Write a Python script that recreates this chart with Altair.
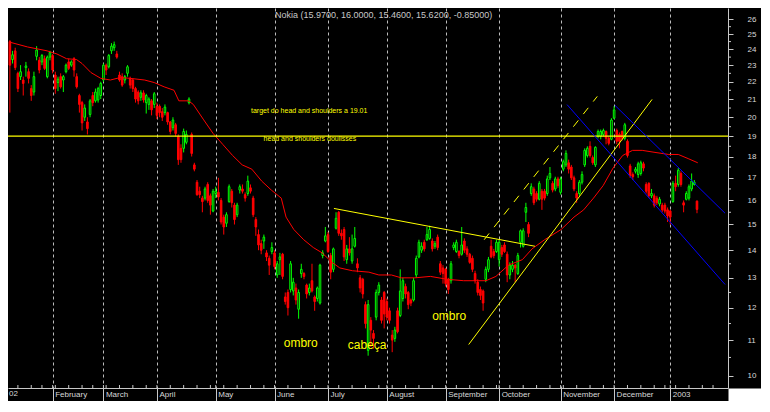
import json
import altair as alt
import pandas as pd

# ---------------- data ----------------
holidays = ["2002-01-01", "2002-01-21", "2002-02-18", "2002-03-29", "2002-05-27",
            "2002-07-04", "2002-09-02", "2002-11-28", "2002-12-25", "2003-01-01", "2003-01-20"]
first_candle_date = "2002-01-09"

opens = [
    24.5, 23.35, 23.9, 22.5, 22.3, 22.1, 22.85, 22.6, 21.6, 21.4,
    23.55, 23.3, 23.2, 23.4, 22.3, 23.5, 23.6, 22.4, 21.95, 22.3,
    22.1, 22.6, 23.2, 23.0, 23.4, 22.3, 21.2, 20.8, 20.0, 19.75,
    20.15, 21.2, 20.9, 20.95, 21.2, 22.1, 23.0, 22.9, 23.9, 24.1,
    23.7, 22.4, 22.3, 22.1, 22.5, 22.2, 22.1, 21.6, 21.4, 21.1,
    21.35, 20.8, 20.7, 20.9, 20.7, 20.6, 20.6, 20.3, 20.25, 20.25,
    19.75, 19.45, 19.6, 19.0, 18.4, 18.4, 18.7, 20.8, 19.1, 17.6,
    16.8, 16.4, 16.1, 16.1, 16.7, 16.2, 15.55, 16.3, 16.35, 16.0,
    15.3, 15.05, 15.95, 16.4, 15.8, 15.4, 16.45, 16.5, 16.25, 16.3,
    16.55, 16.1, 15.2, 14.6, 14.25, 14.35, 13.9, 13.7, 13.95, 13.9,
    13.1, 13.65, 13.85, 12.35, 12.5, 12.6, 12.55, 12.65, 11.95, 13.15,
    13.15, 12.75, 12.5, 12.9, 12.35, 12.3, 12.15, 13.8, 14.35, 14.6,
    13.8, 13.3, 14.85, 15.5, 14.65, 14.8, 13.65, 14.05, 13.6, 14.15,
    13.5, 13.0, 12.95, 12.1, 10.7, 11.6, 11.2, 11.7, 12.5, 12.25,
    12.5, 12.2, 11.9, 11.15, 11.05, 11.9, 11.75, 12.3, 12.7, 12.5,
    12.25, 12.25, 13.1, 13.75, 14.0, 14.3, 14.4, 14.45, 14.35, 14.15,
    14.5, 13.5, 13.35, 13.3, 12.95, 12.9, 14.1, 13.95, 13.95, 13.85,
    14.35, 14.05, 13.85, 13.7, 13.15, 12.85, 12.6, 12.55, 12.95, 13.3,
    14.15, 13.95, 13.95, 13.65, 14.1, 14.2, 13.85, 13.1, 13.3, 13.45,
    13.15, 14.3, 14.15, 15.5, 15.0, 16.3, 16.5, 16.3, 16.05, 16.4,
    16.4, 16.3, 17.0, 16.75, 16.5, 16.95, 16.35, 17.4, 17.6, 17.7,
    17.5, 17.0, 16.3, 16.3, 16.8, 17.6, 18.05, 18.5, 17.95, 17.6,
    19.0, 19.0, 19.1, 19.25, 18.9, 18.85, 19.95, 19.3, 19.1, 19.25,
    18.9, 18.75, 17.55, 17.15, 17.3, 17.15, 17.2, 17.65, 16.7, 16.75,
    16.2, 16.2, 16.1, 15.85, 15.8, 15.8, 15.6, 15.55, 15.95, 16.75,
    16.7, 17.2, 15.9, 16.05, 16.1, 16.5, 16.7, 15.97,
]
highs = [
    24.6, 23.9, 24.1, 22.6, 23.0, 22.3, 23.2, 22.8, 21.8, 22.6,
    24.2, 23.5, 23.7, 23.6, 23.6, 23.9, 23.7, 22.6, 22.3, 22.5,
    22.4, 23.1, 23.4, 23.3, 23.5, 22.5, 21.3, 20.9, 20.7, 20.0,
    21.0, 21.4, 21.6, 21.7, 22.0, 23.1, 23.1, 23.7, 24.4, 24.5,
    23.9, 22.6, 22.5, 22.4, 23.0, 22.3, 22.2, 21.7, 21.5, 21.5,
    21.5, 21.3, 21.1, 21.0, 21.4, 20.8, 20.7, 20.5, 20.7, 20.3,
    19.8, 20.0, 19.7, 19.1, 18.6, 19.4, 19.3, 21.1, 19.2, 17.7,
    16.9, 16.6, 16.2, 16.6, 16.8, 16.3, 16.5, 16.6, 17.0, 16.1,
    15.4, 15.5, 16.7, 16.5, 15.9, 15.9, 16.7, 16.7, 16.35, 17.1,
    16.7, 16.2, 15.3, 14.8, 14.4, 14.6, 14.0, 13.8, 14.3, 14.0,
    13.6, 13.9, 13.9, 12.5, 12.6, 13.6, 13.0, 12.8, 12.6, 13.5,
    13.2, 12.8, 12.8, 13.5, 12.4, 12.7, 13.5, 14.0, 14.9, 14.7,
    13.9, 14.1, 15.5, 15.55, 14.8, 14.9, 14.2, 14.5, 14.6, 14.9,
    13.7, 13.1, 13.0, 12.2, 12.25, 11.7, 11.3, 12.6, 12.85, 12.35,
    12.55, 12.3, 12.0, 11.3, 11.4, 12.0, 13.3, 13.0, 12.8, 12.55,
    12.3, 13.0, 13.8, 14.4, 14.3, 14.4, 14.9, 14.95, 14.45, 14.35,
    14.6, 13.6, 13.45, 13.35, 13.0, 13.6, 14.3, 14.4, 14.0, 14.9,
    14.45, 14.15, 13.9, 13.8, 13.25, 12.95, 12.7, 12.6, 13.4, 13.75,
    14.4, 14.05, 14.4, 14.4, 14.2, 14.3, 13.95, 13.55, 13.6, 13.5,
    13.9, 14.8, 14.85, 15.9, 15.1, 16.75, 16.6, 16.4, 16.85, 16.5,
    16.5, 17.1, 17.5, 16.85, 17.05, 17.05, 17.05, 17.85, 18.3, 17.85,
    17.6, 17.1, 16.4, 16.9, 17.3, 18.4, 18.5, 18.75, 18.05, 18.5,
    19.35, 19.35, 19.4, 19.3, 19.0, 19.95, 20.6, 19.4, 19.2, 19.3,
    19.7, 18.85, 17.65, 17.25, 17.5, 17.75, 17.8, 17.75, 16.8, 16.8,
    16.5, 16.3, 16.2, 16.15, 15.9, 15.9, 15.7, 15.6, 16.85, 17.1,
    17.45, 17.3, 16.0, 16.4, 16.7, 17.2, 16.9, 16.00,
]
lows = [
    20.25, 23.1, 22.7, 21.4, 22.1, 21.2, 22.3, 21.9, 20.9, 21.2,
    23.3, 22.5, 23.0, 22.7, 22.2, 23.3, 22.5, 21.3, 21.45, 21.6,
    21.4, 22.5, 22.7, 22.9, 22.3, 21.6, 20.25, 19.3, 19.8, 19.1,
    20.0, 20.6, 20.8, 20.8, 21.0, 22.0, 22.4, 22.8, 23.7, 23.9,
    23.4, 22.0, 21.7, 21.9, 22.3, 21.6, 21.4, 20.8, 20.7, 20.9,
    20.8, 20.2, 20.4, 20.1, 20.5, 19.9, 20.0, 19.8, 20.1, 19.6,
    19.1, 19.3, 19.0, 17.6, 17.7, 18.2, 18.6, 20.7, 18.0, 17.3,
    16.2, 16.1, 15.5, 16.0, 15.9, 15.4, 15.5, 16.1, 16.0, 15.0,
    14.6, 14.9, 15.9, 15.7, 15.0, 15.3, 16.3, 16.3, 15.95, 16.2,
    16.3, 15.3, 14.55, 14.0, 13.85, 14.05, 13.6, 13.1, 13.85, 13.3,
    13.0, 13.1, 12.95, 12.1, 11.75, 12.5, 12.4, 12.1, 11.65, 13.0,
    12.95, 12.3, 12.4, 12.5, 11.9, 12.2, 12.1, 13.7, 14.3, 13.9,
    12.95, 13.2, 14.8, 14.55, 14.4, 13.6, 13.5, 13.8, 13.5, 14.1,
    13.2, 12.5, 12.3, 11.35, 10.55, 10.8, 10.75, 11.6, 12.4, 11.5,
    11.35, 11.6, 11.5, 10.65, 10.95, 11.2, 11.7, 12.2, 12.3, 11.95,
    12.05, 12.2, 13.0, 13.7, 13.9, 13.95, 14.35, 14.4, 13.95, 14.05,
    14.0, 13.1, 12.8, 12.7, 12.45, 12.8, 14.0, 13.9, 13.7, 13.8,
    13.9, 13.75, 13.5, 13.2, 12.8, 12.4, 12.25, 11.9, 12.85, 13.2,
    13.7, 13.7, 13.9, 13.4, 13.75, 13.9, 12.85, 12.95, 13.2, 12.85,
    13.1, 14.1, 14.1, 15.1, 14.5, 16.2, 15.8, 15.95, 16.0, 15.6,
    16.0, 16.2, 16.9, 16.35, 16.4, 16.55, 16.25, 17.3, 17.5, 17.2,
    16.9, 16.4, 15.9, 16.2, 16.7, 17.5, 17.95, 17.95, 17.6, 17.5,
    18.9, 18.85, 19.0, 18.6, 18.55, 18.8, 19.9, 18.6, 18.4, 18.8,
    18.8, 17.95, 17.0, 16.9, 17.2, 17.0, 17.1, 17.3, 16.3, 16.1,
    16.1, 15.7, 15.8, 15.75, 15.5, 15.45, 15.1, 15.0, 15.9, 16.4,
    16.6, 16.6, 15.5, 16.0, 16.0, 16.4, 16.65, 15.46,
]
closes = [
    23.0, 23.65, 22.85, 21.6, 22.6, 21.9, 22.95, 22.2, 21.2, 22.3,
    23.95, 22.7, 23.6, 22.8, 23.5, 23.8, 22.7, 21.6, 22.15, 21.7,
    22.3, 23.0, 22.8, 23.2, 22.7, 21.7, 20.7, 19.7, 20.5, 19.4,
    20.9, 20.8, 21.4, 21.6, 21.9, 23.0, 22.7, 23.6, 24.2, 24.3,
    23.5, 22.1, 21.8, 22.3, 22.9, 21.8, 21.6, 21.0, 20.9, 21.35,
    20.95, 21.2, 21.0, 20.4, 21.3, 20.1, 20.25, 20.0, 20.55, 19.75,
    19.25, 19.85, 19.15, 17.85, 17.85, 19.25, 19.1, 21.0, 18.15, 17.4,
    16.25, 16.25, 15.95, 16.5, 16.0, 15.8, 16.4, 16.4, 16.15, 15.1,
    14.9, 15.4, 16.6, 15.9, 15.2, 15.8, 16.6, 16.4, 16.1, 16.85,
    16.4, 15.4, 14.9, 14.2, 14.0, 14.5, 13.75, 13.45, 14.1, 13.4,
    13.5, 13.75, 13.05, 12.2, 12.0, 13.5, 12.85, 12.25, 12.5, 13.3,
    13.05, 12.45, 12.65, 12.55, 12.2, 12.65, 13.45, 13.9, 14.55, 13.95,
    13.2, 14.05, 15.25, 14.65, 14.55, 13.75, 14.05, 13.9, 14.05, 14.45,
    13.35, 12.65, 12.45, 11.5, 12.1, 11.3, 11.05, 12.5, 12.75, 11.6,
    11.8, 11.7, 11.6, 11.0, 11.3, 11.25, 12.55, 12.9, 12.45, 12.1,
    12.15, 12.9, 13.7, 14.3, 14.15, 14.05, 14.6, 14.8, 14.05, 14.25,
    14.1, 13.2, 13.15, 12.8, 12.6, 13.5, 14.2, 14.3, 13.8, 14.2,
    14.0, 13.85, 13.55, 13.3, 12.9, 12.5, 12.4, 12.15, 13.3, 13.65,
    13.75, 13.8, 14.3, 14.3, 13.85, 13.95, 13.1, 13.45, 13.45, 13.35,
    13.8, 14.75, 14.75, 15.7, 14.65, 16.6, 15.9, 16.05, 16.75, 16.05,
    16.1, 16.95, 17.2, 16.45, 16.95, 16.65, 16.95, 17.75, 18.15, 17.4,
    17.0, 16.5, 16.1, 16.8, 17.15, 18.3, 18.4, 18.05, 17.7, 18.45,
    19.25, 19.25, 19.3, 18.9, 18.65, 19.85, 20.4, 18.75, 18.75, 18.9,
    19.6, 18.05, 17.1, 17.05, 17.4, 17.65, 17.7, 17.45, 16.4, 16.2,
    16.3, 15.8, 15.9, 16.05, 15.6, 15.55, 15.35, 15.3, 16.75, 16.6,
    17.35, 16.7, 15.8, 16.3, 16.6, 16.85, 16.8, 15.62,
]

# moving average (red curve), read at trading-day positions
ma_day = [5, 11.6, 18.9, 22.6, 26.2, 29.9, 32, 35.3, 39, 42.6,
          46.3, 49.9, 55.4, 59, 62.7, 66.4, 68.2, 71.8, 73.6, 77.3,
          81, 84.6, 88.3, 91.9, 95.5, 99.2, 102.8, 106.5, 108.3, 111.2,
          114.9, 118.5, 121.8, 125.5, 128.4, 133.1, 139.3, 143, 147.7, 151.4,
          156.5, 162.3, 168.5, 174.7, 183.1, 186.8, 191.5, 196.7, 200.3, 205,
          211.2, 216, 219.6, 223.3, 226.9, 230.6, 234.2, 237.9, 241.5, 246.3,
          251.4, 255, 258.7, 262.3]
ma_value = [24.46, 24.15, 23.9, 23.7, 23.4, 23.35, 23.1, 22.55, 22.2, 22.1,
            22.25, 22.2, 22.1, 21.95, 21.7, 21.5, 20.9, 20.9, 20.7, 19.9,
            19.15, 18.6, 18.05, 17.6, 17.4, 16.85, 16.45, 16.1, 15.3, 14.8,
            14.4, 14.1, 13.9, 13.55, 13.35, 13.25, 13.2, 13.1, 13.1, 13.0,
            13.0, 13.05, 12.95, 12.9, 12.9, 13.05, 13.45, 13.65, 14.05, 14.4,
            14.8, 15.3, 15.6, 16.1, 16.65, 17.45, 18.05, 18.3, 18.3, 18.2,
            18.1, 18.1, 17.9, 17.7]

# drawn lines (trading-day, price)
neck_day, neck_price = [126.2, 201.4], [15.66, 14.15]
trend_day, trend_price = [176.6, 245.2], [10.87, 20.98]
dash_day, dash_price = [182.4, 224.7], [14.40, 21.15]
blue_lo_day, blue_lo_price = [213.4, 272.5], [20.69, 12.77]
blue_hi_day, blue_hi_price = [231.3, 272.5], [20.65, 15.46]
target_level = 19.01

month_names = ["2002", "February", "March", "April", "May", "June", "July", "August",
               "September", "October", "November", "December", "2003"]
y_ticks = list(range(10, 27))
y_minor = [v + 0.5 for v in range(10, 26)]

notes_text = ["target do head and shoulders a 19.01", "head and shoulders doulisses"]
notes_day = [95.2, 99.9]
notes_price = [20.35, 18.88]
labels_text = ["ombro", "cabeça", "ombro"]
labels_day = [113.8, 138.6, 169.3]
labels_price = [10.91, 10.85, 11.74]

title_text = "Nokia (15.9700, 16.0000, 15.4600, 15.6200, -0.85000)"

# ---------------- calendar ----------------
dates = pd.bdate_range("2002-01-02", "2003-01-31")
dates = dates[~dates.isin(pd.to_datetime(holidays))]
cal = pd.DataFrame({"date": dates, "day": range(len(dates))})
start = int(cal.loc[cal.date == pd.Timestamp(first_candle_date), "day"].iloc[0])
month_starts = [int(v) for v in cal.groupby(cal.date.dt.to_period("M"))["day"].min().tolist()]
week_starts = [int(v) for v in cal.groupby(cal.date.dt.to_period("W"))["day"].min().tolist()]

n = len(opens)
candles = pd.DataFrame({"day": [start + i for i in range(n)], "open": opens, "high": highs,
                        "low": lows, "close": closes})
candles["dir"] = ["up" if c >= o else "down" for o, c in zip(opens, closes)]
candles["body_top"] = candles[["open", "close"]].max(axis=1)
candles["body_bot"] = candles[["open", "close"]].min(axis=1)
candles["x0"] = candles["day"] - 0.3
candles["x1"] = candles["day"] + 0.3

# ---------------- chart ----------------
W, H = 720, 380
FONT = "Liberation Sans"
AX = "#c8c8c8"
xs = alt.Scale(domain=[4.3, 273.6], nice=False, zero=False)
ys = alt.Scale(type="log", domain=[9.674, 26.81], nice=False)

label_expr = f"{json.dumps(month_names)}[indexof({json.dumps(month_starts)}, datum.value)]"
x_axis = alt.Axis(values=month_starts[1:], labelExpr=label_expr, grid=True, gridDash=[3, 3],
                  gridColor="#bcbcbc", gridWidth=1, tickSize=13, tickColor=AX, domainColor=AX,
                  labelAlign="left", labelBaseline="top", labelPadding=-11, labelOffset=2,
                  labelColor="#d8d8d8", labelFontSize=8, labelFont=FONT, labelOverlap=False,
                  labelFlush=False, labelBound=False, title=None)
y_axis = alt.Axis(orient="right", values=y_ticks, grid=False, tickSize=5, tickColor=AX,
                  domainColor=AX, labelPadding=14, labelFontSize=8, labelFont=FONT,
                  labelColor="#d8d8d8", labelBaseline="middle", labelOverlap=False,
                  labelFlush=False, labelBound=False, title=None, format="d")


def X(field):
    return alt.X(field, type="quantitative", scale=xs, axis=x_axis)


def Y(field):
    return alt.Y(field, type="quantitative", scale=ys, axis=y_axis)


col = alt.Scale(domain=["up", "down"], range=["#00ff00", "#ff0000"])

wicks = alt.Chart(candles).mark_rule(strokeWidth=1).encode(
    x=X("day"), y=Y("low"), y2="high",
    color=alt.Color("dir:N", scale=col, legend=None),
)
bodies = alt.Chart(candles).mark_rect(strokeWidth=1).encode(
    x=X("x0"), x2="x1", y=Y("body_bot"), y2="body_top",
    stroke=alt.Stroke("dir:N", scale=col, legend=None),
    fill=alt.Fill("dir:N", scale=alt.Scale(domain=["up", "down"], range=["#000000", "#ff0000"]),
                  legend=None),
)
ma = alt.Chart(pd.DataFrame({"day": ma_day, "value": ma_value})).mark_line(
    color="#ff0000", strokeWidth=1).encode(x=X("day"), y=Y("value"))

hline = alt.Chart(pd.DataFrame({"level": [target_level]})).mark_rule(
    color="#ffff00", strokeWidth=1.2).encode(y=Y("level"))


def seg(d, p, color, dash=None):
    kw = dict(color=color, strokeWidth=1)
    if dash:
        kw["strokeDash"] = dash
    return alt.Chart(pd.DataFrame({"day": d, "price": p})).mark_line(**kw).encode(
        x=X("day"), y=Y("price"))


neck = seg(neck_day, neck_price, "#ffff00")
trend = seg(trend_day, trend_price, "#ffff00")
dashl = seg(dash_day, dash_price, "#ffff00", [8, 8])
blue1 = seg(blue_lo_day, blue_lo_price, "#0000ff")
blue2 = seg(blue_hi_day, blue_hi_price, "#0000ff")

notes = alt.Chart(pd.DataFrame({"day": notes_day, "price": notes_price, "t": notes_text})).mark_text(
    align="left", baseline="middle", color="#ffff00", fontSize=7, font=FONT).encode(
    x=X("day"), y=Y("price"), text="t:N")
labels = alt.Chart(pd.DataFrame({"day": labels_day, "price": labels_price, "t": labels_text})).mark_text(
    align="center", baseline="middle", color="#ffff00", fontSize=12, font=FONT).encode(
    x=X("day"), y=Y("price"), text="t:N")

title = alt.Chart(pd.DataFrame({"t": [title_text]})).mark_text(
    align="left", baseline="middle", color="#c8c8c8", fontSize=9, font=FONT).encode(
    x=alt.value(267), y=alt.value(7), text="t:N")

# the January 2002 label is cut by the left edge in the reference: only "02" shows
year_lbl = alt.Chart(pd.DataFrame({"t": [month_names[0][-2:]]})).mark_text(
    align="left", baseline="top", color="#d8d8d8", fontSize=8, font=FONT).encode(
    x=alt.value(1), y=alt.value(H + 2), text="t:N")

wk_days = sorted(d for d in set(week_starts) | set(month_starts) if d >= 4.3)
wk = alt.Chart(pd.DataFrame({"day": wk_days})).mark_rule(color=AX, strokeWidth=1).encode(
    x=X("day"), y=alt.value(H - 3), y2=alt.value(H))

ymin = alt.Chart(pd.DataFrame({"v": y_minor})).mark_rule(color=AX, strokeWidth=1).encode(
    y=Y("v"), x=alt.value(W + 1), x2=alt.value(W + 3))

corner = alt.Chart(pd.DataFrame({"a": [0]})).mark_rect(color="white").encode(
    x=alt.value(W + 0.5), x2=alt.value(W + 40), y=alt.value(H + 0.5), y2=alt.value(H + 20))

chart = alt.layer(
    wicks, bodies, ma, hline, neck, trend, dashl, blue1, blue2, notes, labels,
    title, year_lbl, wk, ymin, corner,
).properties(
    width=W, height=H,
    autosize=alt.AutoSizeParams(type="none"),
    padding={"left": 0, "top": 0, "right": 33, "bottom": 13},
    background="black",
).configure_view(strokeWidth=0, fill="black")

chart.save("out.html", embed_options={"renderer": "svg", "actions": False})
